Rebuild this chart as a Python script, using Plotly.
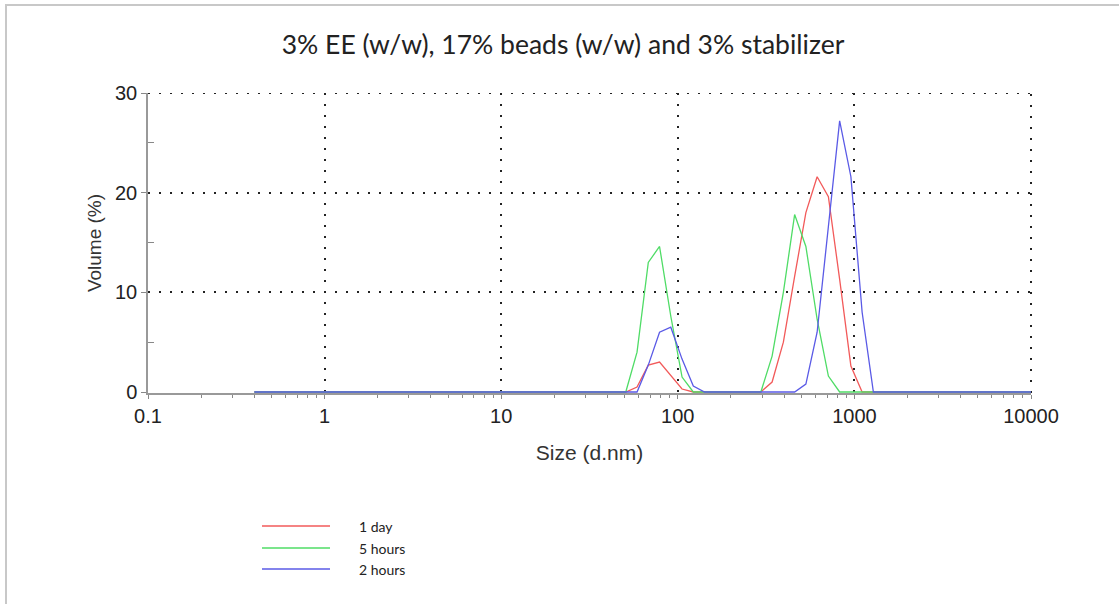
import plotly.graph_objects as go

# Size classes (d.nm)
sizes = [0.4, 0.4632, 0.5365, 0.6213, 0.7195, 0.8332, 0.9649, 1.117, 1.294, 1.499,
         1.736, 2.010, 2.328, 2.696, 3.122, 3.615, 4.187, 4.849, 5.615, 6.503,
         7.531, 8.721, 10.10, 11.70, 13.54, 15.69, 18.17, 21.04, 24.36, 28.21,
         32.67, 37.84, 43.82, 50.75, 58.77, 68.06, 78.82, 91.28, 105.7, 122.4,
         141.8, 164.2, 190.1, 220.2, 255.0, 295.3, 342.0, 396.1, 458.7, 531.2,
         615.1, 712.4, 825.0, 955.4, 1106, 1281, 1484, 1718, 1990, 2305,
         2669, 3091, 3580, 4145, 4801, 5560, 6439, 7456, 8635, 10000]

vol_1day = [0, 0, 0, 0, 0, 0, 0, 0, 0, 0,
            0, 0, 0, 0, 0, 0, 0, 0, 0, 0,
            0, 0, 0, 0, 0, 0, 0, 0, 0, 0,
            0, 0, 0, 0, 0.5, 2.7, 3.0, 1.6, 0.3, 0,
            0, 0, 0, 0, 0, 0, 1.0, 5.0, 11.6, 18.0,
            21.6, 19.6, 11.3, 2.6, 0, 0, 0, 0, 0, 0,
            0, 0, 0, 0, 0, 0, 0, 0, 0, 0]

vol_5hours = [0, 0, 0, 0, 0, 0, 0, 0, 0, 0,
              0, 0, 0, 0, 0, 0, 0, 0, 0, 0,
              0, 0, 0, 0, 0, 0, 0, 0, 0, 0,
              0, 0, 0, 0, 4.0, 13.0, 14.6, 7.6, 1.5, 0,
              0, 0, 0, 0, 0, 0, 3.6, 10.0, 17.8, 14.6,
              7.3, 1.6, 0, 0, 0, 0, 0, 0, 0, 0,
              0, 0, 0, 0, 0, 0, 0, 0, 0, 0]

vol_2hours = [0, 0, 0, 0, 0, 0, 0, 0, 0, 0,
              0, 0, 0, 0, 0, 0, 0, 0, 0, 0,
              0, 0, 0, 0, 0, 0, 0, 0, 0, 0,
              0, 0, 0, 0, 0, 2.7, 6.0, 6.5, 3.3, 0.6,
              0, 0, 0, 0, 0, 0, 0, 0, 0, 0.8,
              6.0, 16.6, 27.2, 21.6, 8.0, 0, 0, 0, 0, 0,
              0, 0, 0, 0, 0, 0, 0, 0, 0, 0]

series_names = ["1 day", "5 hours", "2 hours"]
series_values = [vol_1day, vol_5hours, vol_2hours]
series_colors = ["#f25a5a", "#4fdc66", "#5a5ae6"]

x_tickvals = [0.1, 1, 10, 100, 1000, 10000]
x_ticktext = ["0.1", "1", "10", "100", "1000", "10000"]
y_tickvals = [0, 10, 20, 30]
y_minor = [5, 15, 25]
x_minor = [m * d for d in [0.1, 1, 10, 100, 1000] for m in range(2, 10)]

title_text = "3% EE (w/w), 17% beads (w/w) and 3% stabilizer"

fig = go.Figure()
for name, vals, col in zip(series_names, series_values, series_colors):
    fig.add_trace(go.Scatter(x=sizes, y=vals, mode="lines", name=name,
                             line=dict(color=col, width=1.3), showlegend=False))

W, H = 1119, 604
L, R, T, B = 148, 88, 93, 211
pw, ph = W - L - R, H - T - B

def px_x(px):
    return (px - L) / pw

def px_y(py):
    return (H - B - py) / ph

grid_col = "#222222"
grid_dash = "2px,9px"
tickfont = dict(family="Liberation Sans, Arial, sans-serif", size=20, color="#222222")

fig.update_layout(
    width=W, height=H,
    margin=dict(l=L, r=R, t=T, b=B),
    paper_bgcolor="white", plot_bgcolor="white",
    title=dict(text=title_text, x=563 / W, xref="container", xanchor="center",
               y=1 - 45 / H, yref="container", yanchor="middle",
               font=dict(family="Lato, Open Sans, sans-serif", size=26.5, color="#222222")),
    xaxis=dict(type="log", range=[-1, 4], tickmode="array", tickvals=x_tickvals,
               ticktext=x_ticktext, tickfont=tickfont,
               ticks="outside", ticklen=4, tickcolor="#888888",
               showline=True, linecolor="#999999", linewidth=1.5,
               showgrid=True, gridcolor=grid_col, gridwidth=2, griddash=grid_dash,
               zeroline=False,
               minor=dict(tickmode="array", tickvals=x_minor, ticks="outside",
                          ticklen=3, tickcolor="#888888", showgrid=False),
               title=dict(text="Size (d.nm)", standoff=20,
                          font=dict(family="Liberation Sans, Arial, sans-serif", size=21,
                                    color="#333333"))),
    yaxis=dict(range=[-0.1, 30], tickmode="array", tickvals=y_tickvals,
               tickfont=tickfont, ticks="outside", ticklen=5, tickcolor="#888888",
               showline=True, linecolor="#999999", linewidth=1.5,
               showgrid=True, gridcolor=grid_col, gridwidth=2, griddash=grid_dash,
               zeroline=False,
               minor=dict(tickmode="array", tickvals=y_minor, ticks="inside",
                          ticklen=6, tickcolor="#888888", showgrid=False),
               title=dict(text="Volume (%)", standoff=8,
                          font=dict(family="Liberation Sans, Arial, sans-serif", size=19,
                                    color="#333333"))),
)

# dotted grid lines on the top and right edges (Plotly hides edge grid lines)
fig.add_shape(type="line", xref="x domain", yref="y", x0=0, x1=1, y0=30, y1=30,
              line=dict(color=grid_col, width=2, dash=grid_dash), layer="below")
fig.add_shape(type="line", xref="x domain", yref="y domain", x0=1, x1=1, y0=0, y1=1,
              line=dict(color=grid_col, width=2, dash=grid_dash), layer="below")

# outer frame
fig.add_shape(type="rect", xref="paper", yref="paper",
              x0=px_x(6), x1=px_x(1200), y0=px_y(700), y1=px_y(5),
              line=dict(color="#c8c8c8", width=2), fillcolor="rgba(0,0,0,0)", layer="below")

# manual legend
legend_rows = [526, 548, 569]
for name, col, row in zip(series_names, series_colors, legend_rows):
    fig.add_shape(type="line", xref="paper", yref="paper",
                  x0=px_x(262), x1=px_x(330), y0=px_y(row), y1=px_y(row),
                  line=dict(color=col, width=1.3))
    fig.add_annotation(xref="paper", yref="paper", x=px_x(357), y=px_y(row),
                       xanchor="left", yanchor="middle", text=name, showarrow=False,
                       font=dict(family="Lato, Open Sans, sans-serif", size=14, color="#222222"))

fig.write_html("out.html")
